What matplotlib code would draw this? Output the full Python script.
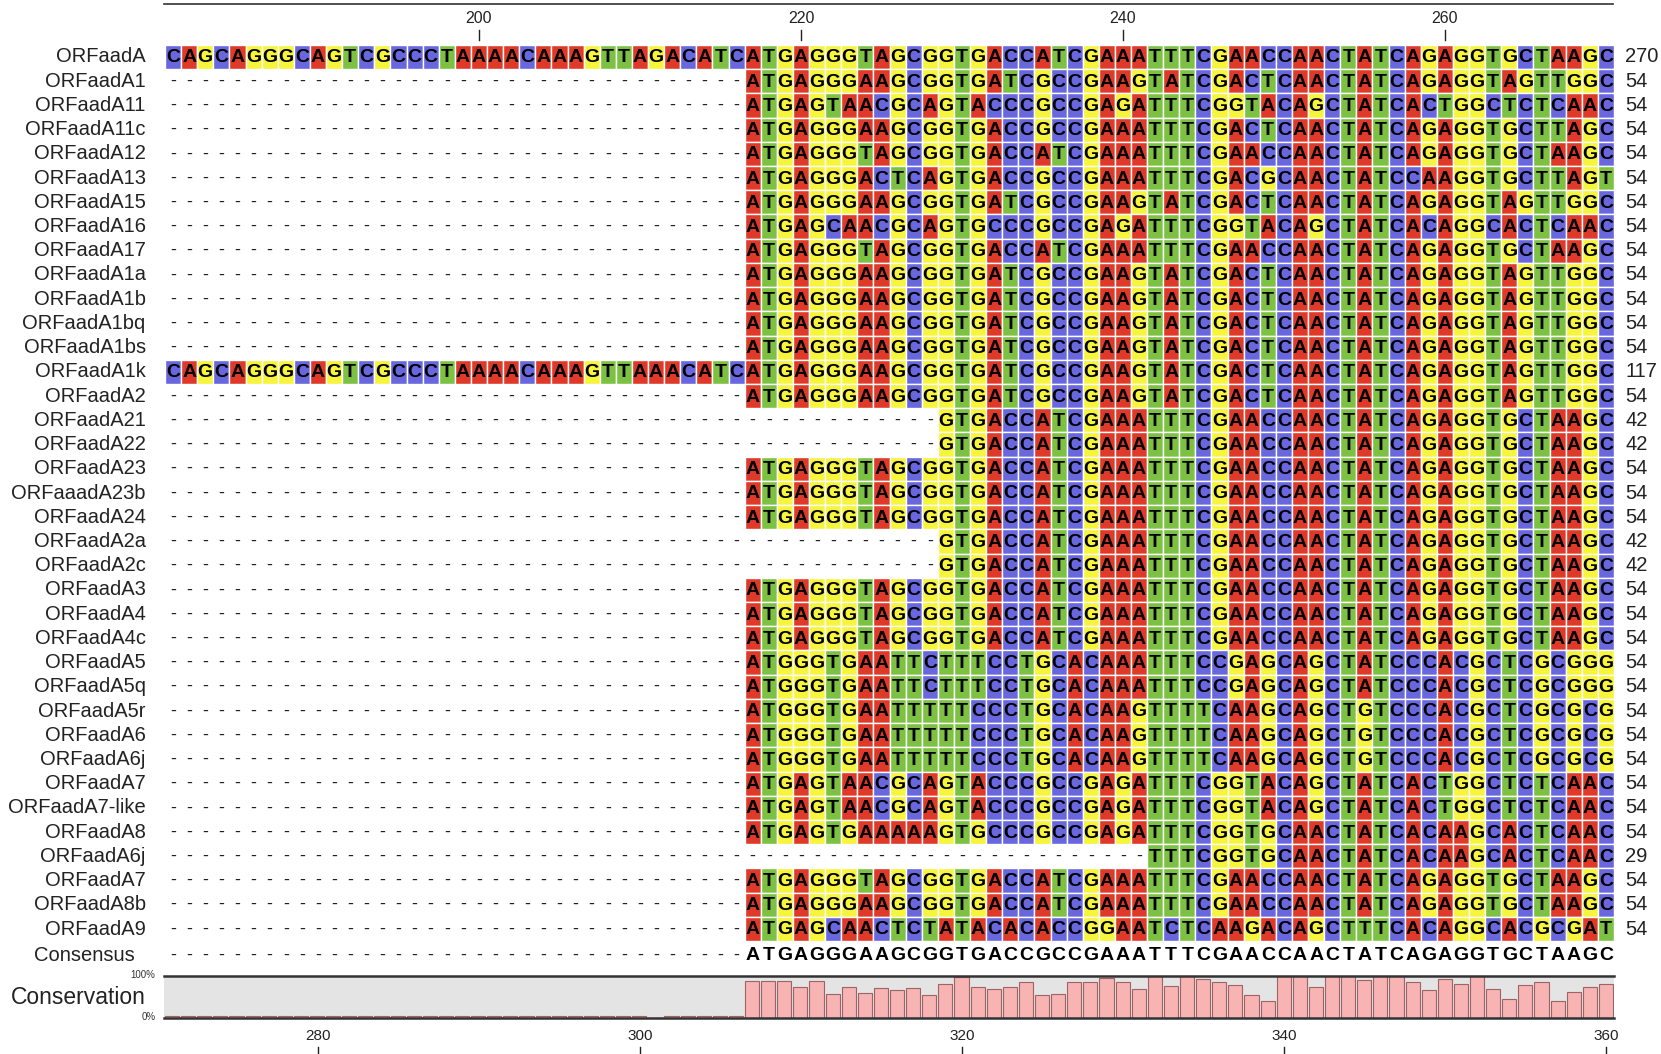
import numpy as np
import matplotlib
matplotlib.use("Agg")
import matplotlib.pyplot as plt
from matplotlib.patches import Rectangle
from matplotlib.collections import PatchCollection

plt.rcParams['font.family'] = ['Liberation Sans', 'DejaVu Sans']

# sequence names, first aligned column, residues and total length
names = ["ORFaadA", "ORFaadA1", "ORFaadA11", "ORFaadA11c", "ORFaadA12", "ORFaadA13",
         "ORFaadA15", "ORFaadA16", "ORFaadA17", "ORFaadA1a", "ORFaadA1b", "ORFaadA1bq",
         "ORFaadA1bs", "ORFaadA1k", "ORFaadA2", "ORFaadA21", "ORFaadA22", "ORFaadA23",
         "ORFaaadA23b", "ORFaadA24", "ORFaadA2a", "ORFaadA2c", "ORFaadA3", "ORFaadA4",
         "ORFaadA4c", "ORFaadA5", "ORFaadA5q", "ORFaadA5r", "ORFaadA6", "ORFaadA6j",
         "ORFaadA7", "ORFaadA7-like", "ORFaadA8", "ORFaadA6j", "ORFaadA7", "ORFaadA8b",
         "ORFaadA9"]

starts = [181, 217, 217, 217, 217, 217, 217, 217, 217, 217, 217, 217, 217, 181, 217,
          229, 229, 217, 217, 217, 229, 229, 217, 217, 217, 217, 217, 217, 217, 217,
          217, 217, 217, 242, 217, 217, 217]

seqs = [
    "CAGCAGGGCAGTCGCCCTAAAACAAAGTTAGACATCATGAGGGTAGCGGTGACCATCGAAATTTCGAACCAACTATCAGAGGTGCTAAGC",
    "ATGAGGGAAGCGGTGATCGCCGAAGTATCGACTCAACTATCAGAGGTAGTTGGC",
    "ATGAGTAACGCAGTACCCGCCGAGATTTCGGTACAGCTATCACTGGCTCTCAAC",
    "ATGAGGGAAGCGGTGACCGCCGAAATTTCGACTCAACTATCAGAGGTGCTTAGC",
    "ATGAGGGTAGCGGTGACCATCGAAATTTCGAACCAACTATCAGAGGTGCTAAGC",
    "ATGAGGGACTCAGTGACCGCCGAAATTTCGACGCAACTATCCAAGGTGCTTAGT",
    "ATGAGGGAAGCGGTGATCGCCGAAGTATCGACTCAACTATCAGAGGTAGTTGGC",
    "ATGAGCAACGCAGTGCCCGCCGAGATTTCGGTACAGCTATCACAGGCACTCAAC",
    "ATGAGGGTAGCGGTGACCATCGAAATTTCGAACCAACTATCAGAGGTGCTAAGC",
    "ATGAGGGAAGCGGTGATCGCCGAAGTATCGACTCAACTATCAGAGGTAGTTGGC",
    "ATGAGGGAAGCGGTGATCGCCGAAGTATCGACTCAACTATCAGAGGTAGTTGGC",
    "ATGAGGGAAGCGGTGATCGCCGAAGTATCGACTCAACTATCAGAGGTAGTTGGC",
    "ATGAGGGAAGCGGTGATCGCCGAAGTATCGACTCAACTATCAGAGGTAGTTGGC",
    "CAGCAGGGCAGTCGCCCTAAAACAAAGTTAAACATCATGAGGGAAGCGGTGATCGCCGAAGTATCGACTCAACTATCAGAGGTAGTTGGC",
    "ATGAGGGAAGCGGTGATCGCCGAAGTATCGACTCAACTATCAGAGGTAGTTGGC",
    "GTGACCATCGAAATTTCGAACCAACTATCAGAGGTGCTAAGC",
    "GTGACCATCGAAATTTCGAACCAACTATCAGAGGTGCTAAGC",
    "ATGAGGGTAGCGGTGACCATCGAAATTTCGAACCAACTATCAGAGGTGCTAAGC",
    "ATGAGGGTAGCGGTGACCATCGAAATTTCGAACCAACTATCAGAGGTGCTAAGC",
    "ATGAGGGTAGCGGTGACCATCGAAATTTCGAACCAACTATCAGAGGTGCTAAGC",
    "GTGACCATCGAAATTTCGAACCAACTATCAGAGGTGCTAAGC",
    "GTGACCATCGAAATTTCGAACCAACTATCAGAGGTGCTAAGC",
    "ATGAGGGTAGCGGTGACCATCGAAATTTCGAACCAACTATCAGAGGTGCTAAGC",
    "ATGAGGGTAGCGGTGACCATCGAAATTTCGAACCAACTATCAGAGGTGCTAAGC",
    "ATGAGGGTAGCGGTGACCATCGAAATTTCGAACCAACTATCAGAGGTGCTAAGC",
    "ATGGGTGAATTCTTTCCTGCACAAATTTCCGAGCAGCTATCCCACGCTCGCGGG",
    "ATGGGTGAATTCTTTCCTGCACAAATTTCCGAGCAGCTATCCCACGCTCGCGGG",
    "ATGGGTGAATTTTTCCCTGCACAAGTTTTCAAGCAGCTGTCCCACGCTCGCGCG",
    "ATGGGTGAATTTTTCCCTGCACAAGTTTTCAAGCAGCTGTCCCACGCTCGCGCG",
    "ATGGGTGAATTTTTCCCTGCACAAGTTTTCAAGCAGCTGTCCCACGCTCGCGCG",
    "ATGAGTAACGCAGTACCCGCCGAGATTTCGGTACAGCTATCACTGGCTCTCAAC",
    "ATGAGTAACGCAGTACCCGCCGAGATTTCGGTACAGCTATCACTGGCTCTCAAC",
    "ATGAGTGAAAAAGTGCCCGCCGAGATTTCGGTGCAACTATCACAAGCACTCAAC",
    "TTTCGGTGCAACTATCACAAGCACTCAAC",
    "ATGAGGGTAGCGGTGACCATCGAAATTTCGAACCAACTATCAGAGGTGCTAAGC",
    "ATGAGGGAAGCGGTGACCATCGAAATTTCGAACCAACTATCAGAGGTGCTAAGC",
    "ATGAGCAACTCTATACACACCGGAATCTCAAGACAGCTTTCACAGGCACGCGAT",
]

lengths = [270, 54, 54, 54, 54, 54, 54, 54, 54, 54, 54, 54, 54, 117, 54, 42, 42, 54, 54,
           54, 42, 42, 54, 54, 54, 54, 54, 54, 54, 54, 54, 54, 54, 29, 54, 54, 54]

consensus_start = 217
consensus = "ATGAGGGAAGCGGTGACCGCCGAAATTTCGAACCAACTATCAGAGGTGCTAAGC"

# conservation (%) per column, 271..360 on the lower ruler
conservation = [5.4] * 30 + [0.0] + [5.4] * 5 + [
    86.5, 86.5, 86.5, 73.0, 86.5, 56.8, 73.0, 59.5, 70.3, 64.9,
    70.3, 54.1, 81.1, 97.3, 73.0, 67.6, 73.0, 83.8, 54.1, 56.8,
    83.8, 83.8, 94.6, 83.8, 67.6, 100.0, 75.7, 100.0, 91.9, 83.8,
    78.4, 54.1, 40.5, 100.0, 100.0, 73.0, 100.0, 100.0, 89.2, 100.0,
    100.0, 83.8, 64.9, 91.9, 81.1, 100.0, 67.6, 45.9, 78.4, 83.8,
    40.5, 62.2, 73.0, 81.1]

top_ticks = [200, 220, 240, 260]
bottom_ticks = [280, 300, 320, 340, 360]

base_colors = {"A": "#df3a29", "C": "#6867de", "G": "#f6f53c", "T": "#7cc142"}

first_col, last_col = 181, 270
W, H = 1661, 1054

fig = plt.figure(figsize=(W / 100, H / 100), dpi=100)
ax = fig.add_axes([0, 0, 1, 1])
ax.set_xlim(170.25, 273.42)
ax.set_ylim(41.16, -2.353)
ax.axis('off')

# top ruler
ax.plot([180.45, 270.45], [-2.18, -2.18], color='#333333', lw=1.2)
for t in top_ticks:
    ax.text(t, -1.57, str(t), ha='center', va='center', fontsize=11.5, color='#222222')
    ax.plot([t, t], [-1.13, -0.69], color='#222222', lw=1)

cells = []
cell_colors = []
for r, (nm, s0, sq, ln) in enumerate(zip(names, starts, seqs, lengths)):
    ax.text(179.3, r, nm, ha='right', va='center', fontsize=14.5, color='#222222')
    ax.text(271.2, r, str(ln), ha='left', va='center', fontsize=14.5, color='#222222')
    for c in range(first_col, last_col + 1):
        i = c - s0
        if 0 <= i < len(sq):
            b = sq[i]
            cells.append(Rectangle((c - 0.5, r - 0.5), 1, 1))
            cell_colors.append(base_colors[b])
            ax.text(c, r + 0.04, b, ha='center', va='center', fontsize=14,
                    fontweight='bold', color='black')
        else:
            ax.text(c, r, '-', ha='center', va='center', fontsize=13, color='#222222')

ax.add_collection(PatchCollection(cells, facecolor=cell_colors, edgecolor='white',
                                  linewidth=1.0))

# consensus row
cr = len(names) + 0.1
ax.text(178.6, cr, "Consensus", ha='right', va='center', fontsize=14.5, color='#222222')
for c in range(first_col, last_col + 1):
    i = c - consensus_start
    if i >= 0:
        ax.text(c, cr, consensus[i], ha='center', va='center', fontsize=14,
                fontweight='bold', color='black')
    else:
        ax.text(c, cr, '-', ha='center', va='center', fontsize=13, color='#222222')

ax.text(179.3, 38.81, "Conservation", ha='right', va='center', fontsize=16.5, color='#222222')
ax.text(179.9, 37.9, "100%", ha='right', va='center', fontsize=7, color='#333333')
ax.text(179.9, 39.64, "0%", ha='right', va='center', fontsize=7, color='#333333')

for t in bottom_ticks:
    ax.text(t - 90, 40.42, str(t), ha='center', va='center', fontsize=11, color='#222222')
    ax.plot([t - 90, t - 90], [40.88, 41.2], color='#222222', lw=1)

# conservation histogram
cax = fig.add_axes([164 / W, (H - 1018) / H, 1450 / W, 42.4 / H])
cax.set_facecolor('#e4e4e4')
cols = np.arange(first_col + 90, last_col + 91)
cax.bar(cols, conservation, width=0.88, color='#f8b3b3', edgecolor='#9c6464',
        linewidth=0.8)
cax.set_xlim(270.5, 360.5)
cax.set_ylim(0, 100)
cax.set_xticks([])
cax.set_yticks([])
for side in ['left', 'right']:
    cax.spines[side].set_visible(False)
for side in ['top', 'bottom']:
    cax.spines[side].set_color('#333333')
    cax.spines[side].set_linewidth(1.8)

fig.savefig("out.png", dpi=100)
